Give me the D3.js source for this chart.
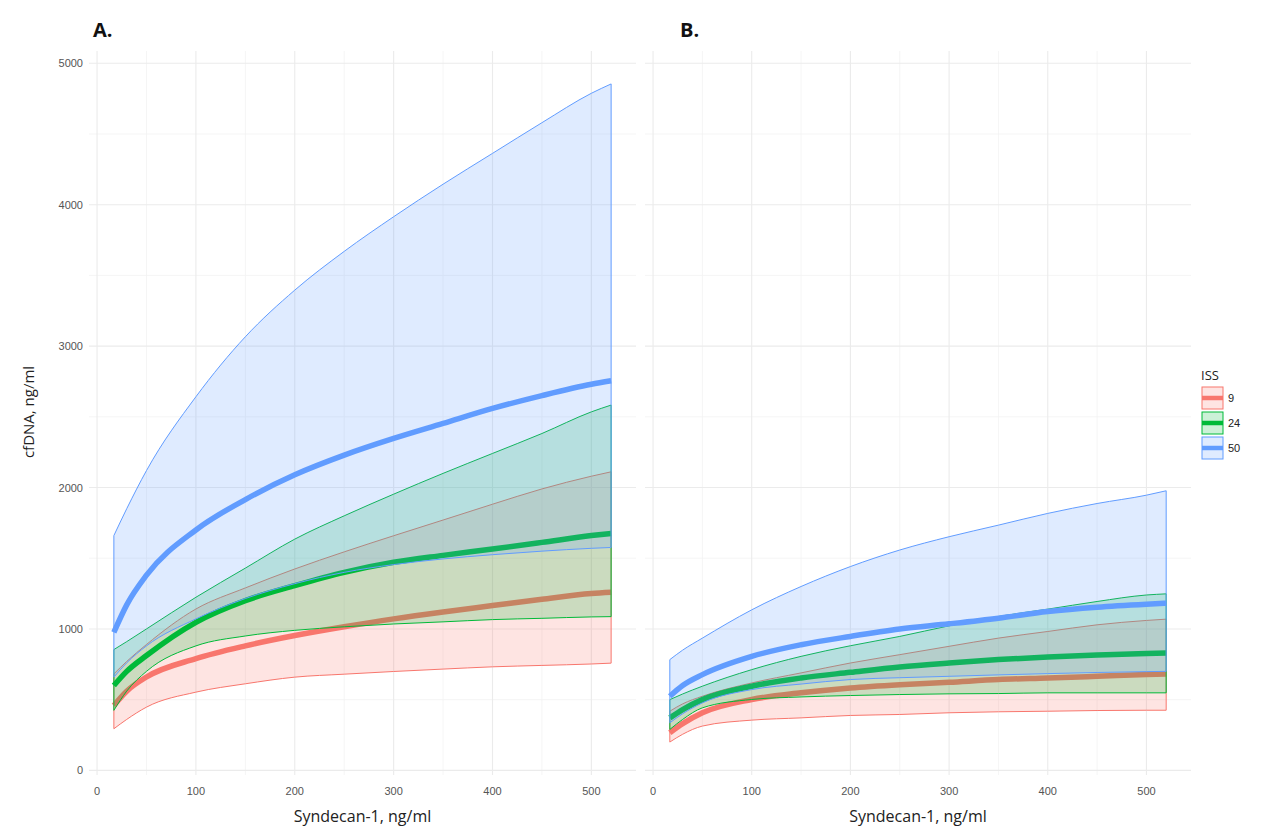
<!DOCTYPE html>
<html>
<head>
<meta charset="utf-8">
<script src="https://cdn.jsdelivr.net/npm/d3@7"></script>
<style>
  body { margin: 0; background: #fff; }
</style>
</head>
<body>
<svg id="chart" width="1281" height="830"></svg>
<script>
// x positions (Syndecan-1) where the curves were read
var xs = [17, 30, 50, 100, 150, 200, 250, 300, 350, 400, 450, 500, 520];

// panel A
var aLow9 = [294, 360, 447, 553, 612, 659, 680, 699, 716, 732, 742, 752, 758];
var aFit9 = [459, 560, 660, 790, 880, 953, 1015, 1071, 1120, 1165, 1210, 1250, 1259];
var aUp9 = [682, 770, 890, 1141, 1290, 1424, 1545, 1659, 1770, 1882, 1990, 2080, 2111];
var aLow24 = [424, 560, 700, 880, 950, 990, 1015, 1035, 1050, 1066, 1075, 1085, 1087];
var aFit24 = [600, 700, 812, 1047, 1200, 1306, 1400, 1471, 1520, 1565, 1612, 1660, 1675];
var aUp24 = [854, 910, 1000, 1224, 1430, 1635, 1800, 1953, 2100, 2241, 2382, 2535, 2583];
var aLow50 = [659, 760, 880, 1071, 1215, 1320, 1400, 1455, 1495, 1525, 1550, 1570, 1576];
var aFit50 = [976, 1170, 1380, 1700, 1915, 2090, 2229, 2347, 2453, 2559, 2650, 2730, 2755];
var aUp50 = [1660, 1850, 2120, 2642, 3066, 3396, 3670, 3915, 4145, 4363, 4580, 4788, 4854];

// panel B
var bLow9 = [200, 255, 313, 355, 371, 388, 395, 407, 414, 418, 423, 425, 425];
var bFit9 = [266, 330, 407, 501, 548, 583, 606, 623, 642, 653, 665, 678, 682];
var bUp9 = [418, 470, 524, 618, 689, 759, 818, 877, 935, 982, 1029, 1060, 1069];
var bLow24 = [289, 360, 442, 501, 519, 529, 536, 541, 543, 548, 548, 548, 548];
var bFit24 = [371, 430, 500, 595, 653, 693, 731, 759, 783, 801, 815, 827, 830];
var bUp24 = [500, 540, 595, 712, 806, 881, 947, 1022, 1088, 1140, 1194, 1240, 1248];
var bLow50 = [336, 400, 477, 571, 610, 642, 655, 665, 675, 684, 692, 698, 700];
var bFit50 = [524, 600, 677, 806, 888, 947, 999, 1036, 1076, 1123, 1154, 1175, 1182];
var bUp50 = [783, 850, 935, 1135, 1300, 1441, 1558, 1652, 1734, 1817, 1887, 1946, 1977];

var issLevels = ["9", "24", "50"];
var issColors = ["#F8766D", "#00BA38", "#619CFF"];
var xTicks = [0, 100, 200, 300, 400, 500];
var xMinor = [50, 150, 250, 350, 450];
var yTicks = [0, 1000, 2000, 3000, 4000, 5000];
var yMinor = [500, 1500, 2500, 3500, 4500];

var panels = [
    {label: "A.", range: [89, 636], series: [[aLow9, aFit9, aUp9], [aLow24, aFit24, aUp24], [aLow50, aFit50, aUp50]]},
    {label: "B.", range: [645, 1191], series: [[bLow9, bFit9, bUp9], [bLow24, bFit24, bUp24], [bLow50, bFit50, bUp50]]}
];

var tickFont = "'Liberation Sans', Arial, sans-serif";
var titleFont = "'Open Sans', 'Noto Sans', sans-serif";

var svg = d3.select("#chart");
var y = d3.scaleLinear().domain([-33, 5087]).range([775, 51]);

panels.forEach(function (p, pi) {
    var x = d3.scaleLinear().domain([-8.15, 545.15]).range(p.range);
    var g = svg.append("g");

    g.selectAll("line.minor-x").data(xMinor).enter().append("line")
        .attr("x1", x).attr("x2", x).attr("y1", y.range()[0]).attr("y2", y.range()[1])
        .attr("stroke", "#f3f3f3").attr("stroke-width", 0.8);
    g.selectAll("line.minor-y").data(yMinor).enter().append("line")
        .attr("x1", p.range[0]).attr("x2", p.range[1]).attr("y1", y).attr("y2", y)
        .attr("stroke", "#f3f3f3").attr("stroke-width", 0.8);
    g.selectAll("line.major-x").data(xTicks).enter().append("line")
        .attr("x1", x).attr("x2", x).attr("y1", y.range()[0]).attr("y2", y.range()[1])
        .attr("stroke", "#ebebeb").attr("stroke-width", 1.1);
    g.selectAll("line.major-y").data(yTicks).enter().append("line")
        .attr("x1", p.range[0]).attr("x2", p.range[1]).attr("y1", y).attr("y2", y)
        .attr("stroke", "#ebebeb").attr("stroke-width", 1.1);

    var area = d3.area().curve(d3.curveMonotoneX)
        .x(function (d) { return x(d.x); })
        .y0(function (d) { return y(d.lo); })
        .y1(function (d) { return y(d.hi); });
    var line = d3.line().curve(d3.curveMonotoneX)
        .x(function (d) { return x(d.x); })
        .y(function (d) { return y(d.v); });

    p.series.forEach(function (s, si) {
        var rows = xs.map(function (xv, i) {
            return {x: xv, lo: s[0][i], v: s[1][i], hi: s[2][i]};
        });
        var col = issColors[si];
        // ribbon with outline, then the fitted line
        g.append("path").datum(rows)
            .attr("d", area)
            .attr("fill", col).attr("fill-opacity", 0.2)
            .attr("stroke", col).attr("stroke-width", 1);
        g.append("path").datum(rows)
            .attr("d", line)
            .attr("fill", "none")
            .attr("stroke", col).attr("stroke-width", 5.5);
    });

    g.selectAll("text.xt").data(xTicks).enter().append("text")
        .attr("x", x).attr("y", 795)
        .attr("text-anchor", "middle")
        .style("font-family", tickFont)
        .attr("font-size", 11).attr("fill", "#555")
        .text(function (d) { return d; });

    g.append("text")
        .attr("x", (p.range[0] + p.range[1]) / 2).attr("y", 822)
        .attr("text-anchor", "middle")
        .style("font-family", titleFont)
        .attr("font-size", 16).attr("fill", "#222")
        .text("Syndecan-1, ng/ml");

    g.append("text")
        .attr("x", p.range[0] + 4 + pi * 31).attr("y", 37)
        .style("font-family", titleFont)
        .attr("font-weight", "bold")
        .attr("font-size", 20).attr("fill", "#111")
        .text(p.label);
});

svg.selectAll("text.yt").data(yTicks).enter().append("text")
    .attr("x", 83).attr("y", function (d) { return y(d) + 4; })
    .attr("text-anchor", "end")
    .style("font-family", tickFont)
    .attr("font-size", 11).attr("fill", "#555")
    .text(function (d) { return d; });

svg.append("text")
    .attr("transform", "translate(34,412) rotate(-90)")
    .attr("text-anchor", "middle")
    .style("font-family", titleFont)
    .attr("font-size", 15).attr("fill", "#222")
    .text("cfDNA, ng/ml");

// legend
var leg = svg.append("g").attr("transform", "translate(1201,368)");
leg.append("text").attr("x", 0).attr("y", 12)
    .style("font-family", titleFont)
    .attr("font-size", 13).attr("fill", "#222").text("ISS");
issLevels.forEach(function (lv, i) {
    var ky = 19 + i * 25;
    leg.append("rect").attr("x", 1).attr("y", ky).attr("width", 21).attr("height", 22)
        .attr("fill", issColors[i]).attr("fill-opacity", 0.2)
        .attr("stroke", issColors[i]).attr("stroke-width", 1);
    leg.append("line").attr("x1", 1).attr("x2", 22).attr("y1", ky + 11).attr("y2", ky + 11)
        .attr("stroke", issColors[i]).attr("stroke-width", 4.5);
    leg.append("text").attr("x", 27).attr("y", ky + 15)
        .style("font-family", tickFont)
        .attr("font-size", 11).attr("fill", "#222").text(lv);
});
</script>
</body>
</html>
